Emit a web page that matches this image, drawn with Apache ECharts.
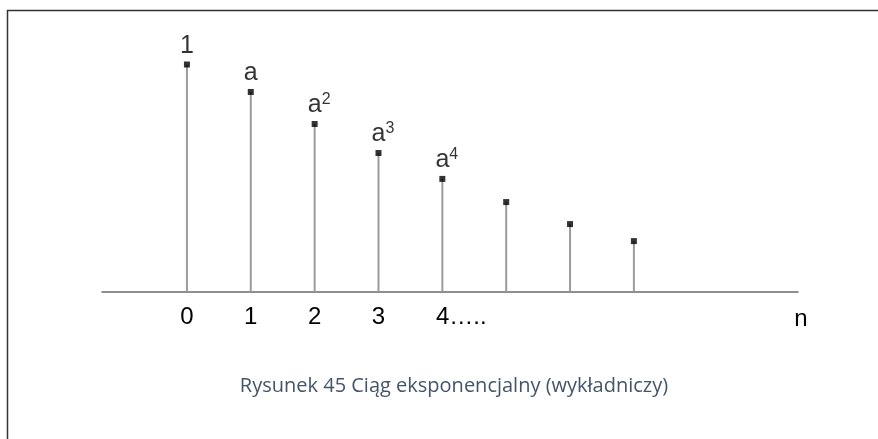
<!DOCTYPE html>
<html>
<head>
<meta charset="utf-8">
<script src="https://cdn.jsdelivr.net/npm/echarts@6/dist/echarts.min.js"></script>
<style>
  html, body { margin: 0; padding: 0; background: #ffffff; }
  #chart { width: 878px; height: 439px; }
</style>
</head>
<body>
<div id="chart"></div>
<script>
// Terms of the exponential sequence a^n (0 < a < 1), index n on the horizontal axis
const nValues = [0, 1, 2, 3, 4, 5, 6, 7];
const termValues = [1, 0.879, 0.738, 0.610, 0.496, 0.394, 0.297, 0.222];
// Labels written above the first terms: base text and exponent
const termBase = ['1', 'a', 'a', 'a', 'a', '', '', ''];
const termExponent = ['', '', '2', '3', '4', '', '', ''];
// Index labels under the axis
const tickValues = [0, 1, 2, 3, 4];
const tickLabels = ['0', '1', '2', '3', '4'];
const tickTrail = ['', '', '', '', '…..'];
const axisName = 'n';
const caption = 'Rysunek 45 Ciąg eksponencjalny (wykładniczy)';

const FONT = '"Liberation Sans", Arial, sans-serif';

const stemData = nValues.map((n, i) => [n, termValues[i]]);

const chart = echarts.init(document.getElementById('chart'), null, { renderer: 'canvas' });

chart.setOption({
  backgroundColor: '#ffffff',
  animation: false,
  title: {
    text: caption,
    left: 449,
    top: 371,
    textAlign: 'center',
    textStyle: {
      fontFamily: '"Open Sans", sans-serif',
      fontSize: 20,
      fontWeight: 'normal',
      color: '#44546a'
    }
  },
  grid: { left: 102, right: 80, top: 64.5, bottom: 147.5 },
  xAxis: {
    type: 'value',
    min: -1.33,
    max: 9.57,
    splitLine: { show: false },
    axisTick: { show: false },
    axisLine: { show: true, onZero: false, lineStyle: { color: '#6b6b6b', width: 1.5 } },
    axisLabel: {
      customValues: tickValues,
      margin: 14,
      color: '#000000',
      fontFamily: FONT,
      fontSize: 24,
      formatter: function (v) {
        const i = tickValues.indexOf(v);
        if (i < 0) return '';
        if (tickTrail[i]) {
          return '{pad|}{d|' + tickLabels[i] + '}{t|' + tickTrail[i] + '}';
        }
        return '{d|' + tickLabels[i] + '}';
      },
      rich: {
        d: { fontFamily: FONT, fontSize: 24, color: '#000000' },
        t: { fontFamily: FONT, fontSize: 24, color: '#000000' },
        pad: { width: 38 }
      }
    },
    name: axisName,
    nameLocation: 'end',
    nameGap: 3,
    nameTextStyle: {
      fontFamily: FONT,
      fontSize: 24,
      color: '#000000',
      align: 'center',
      verticalAlign: 'top',
      padding: [16, 0, 0, 0]
    }
  },
  yAxis: {
    type: 'value',
    min: 0,
    max: 1,
    show: false
  },
  series: [
    {
      type: 'bar',
      data: stemData,
      barWidth: 2,
      itemStyle: { color: '#9b9b9b' },
      silent: true,
      z: 1
    },
    {
      type: 'scatter',
      data: stemData,
      symbol: 'rect',
      symbolSize: 6,
      itemStyle: { color: '#000000' },
      z: 3,
      label: {
        show: true,
        position: 'top',
        distance: 3,
        formatter: function (p) {
          const i = p.dataIndex;
          if (!termBase[i]) return '';
          if (termExponent[i]) {
            return '{sp|}{b|' + termBase[i] + '}{sup|' + termExponent[i] + '}';
          }
          return '{b|' + termBase[i] + '}';
        },
        rich: {
          b: { fontFamily: FONT, fontSize: 25, color: '#000000', lineHeight: 26, verticalAlign: 'bottom' },
          sup: { fontFamily: FONT, fontSize: 16, color: '#000000', lineHeight: 16, verticalAlign: 'top' },
          sp: { width: 9 }
        }
      }
    }
  ],
  graphic: [
    {
      type: 'polyline',
      silent: true,
      shape: { points: [[878, 10.5], [7.5, 10.5], [7.5, 439]] },
      style: { stroke: '#333333', lineWidth: 1.5, fill: null }
    }
  ]
});
</script>
</body>
</html>
